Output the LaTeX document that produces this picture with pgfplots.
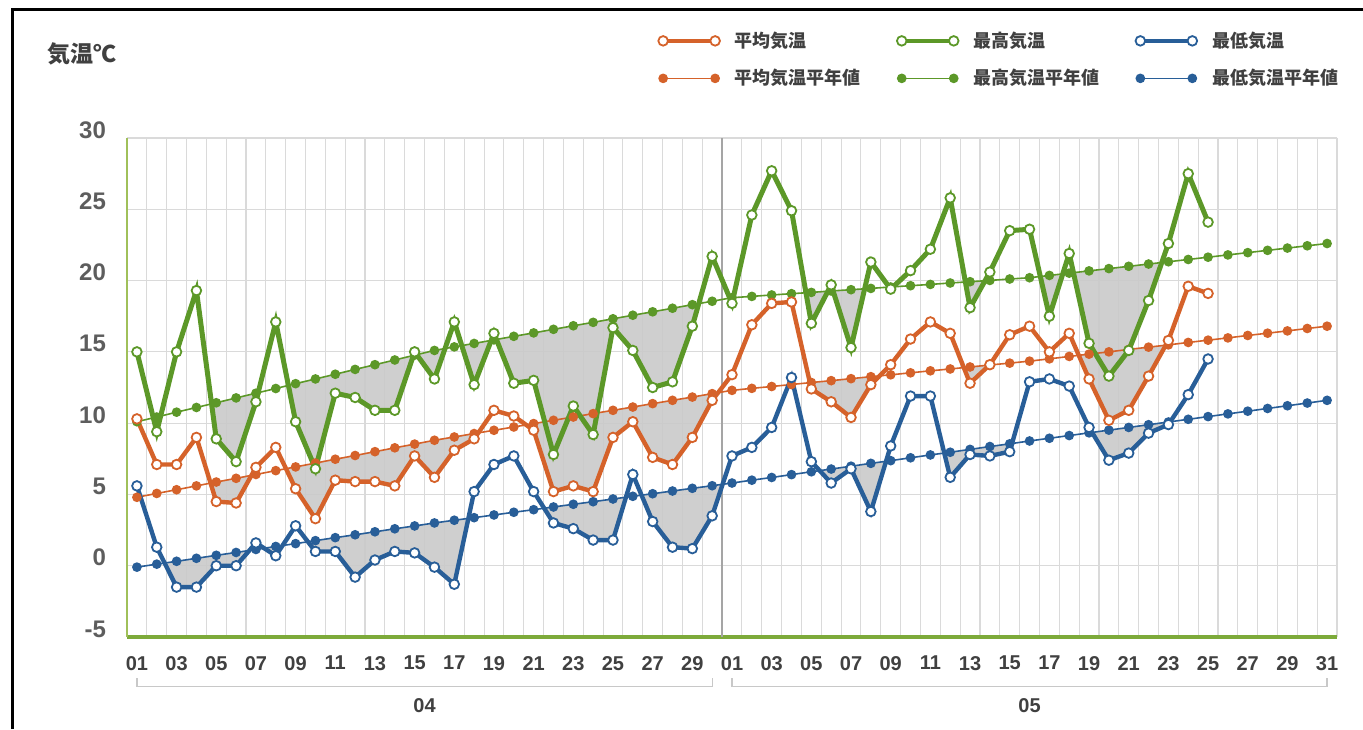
\documentclass[border=0pt]{standalone}
\usepackage{fontspec}
\setmainfont{Liberation Sans}
\newfontfamily\cjk{Noto Sans CJK JP}
\usepackage{pgfplots}
\pgfplotsset{compat=1.18}
\usepackage{pgfplotstable}
\usepgfplotslibrary{fillbetween}

\definecolor{cOr}{RGB}{213,98,42}
\definecolor{cGr}{RGB}{92,152,40}
\definecolor{cBl}{RGB}{40,94,152}
\definecolor{cAx}{RGB}{125,170,58}
\definecolor{cAxY}{RGB}{160,192,90}
\definecolor{cGrid}{RGB}{218,218,218}
\definecolor{cDiv}{RGB}{165,165,165}
\definecolor{cBr}{RGB}{200,200,200}
\definecolor{cFill}{RGB}{202,202,202}
\definecolor{cTxt}{RGB}{64,64,64}

% daily values, day index 0 = 04/01
\pgfplotstableread{
d tavg tmax tmin
0 10.3 15.0 5.6
1 7.1 9.4 1.3
2 7.1 15.0 -1.5
3 9.0 19.3 -1.5
4 4.5 8.9 0.0
5 4.4 7.3 0.0
6 6.9 11.5 1.6
7 8.3 17.1 0.7
8 5.4 10.1 2.8
9 3.3 6.8 1.0
10 6.0 12.1 1.0
11 5.9 11.8 -0.8
12 5.9 10.9 0.4
13 5.6 10.9 1.0
14 7.7 15.0 0.9
15 6.2 13.1 -0.1
16 8.1 17.1 -1.3
17 8.9 12.7 5.2
18 10.9 16.3 7.1
19 10.5 12.8 7.7
20 9.5 13.0 5.2
21 5.2 7.8 3.0
22 5.6 11.2 2.6
23 5.2 9.2 1.8
24 9.0 16.7 1.8
25 10.1 15.1 6.4
26 7.6 12.5 3.1
27 7.1 12.9 1.3
28 9.0 16.8 1.2
29 11.6 21.7 3.5
30 13.4 18.4 7.7
31 16.9 24.6 8.3
32 18.4 27.7 9.7
33 18.5 24.9 13.2
34 12.4 17.0 7.3
35 11.5 19.7 5.8
36 10.4 15.3 6.8
37 12.7 21.3 3.8
38 14.1 19.4 8.4
39 15.9 20.7 11.9
40 17.1 22.2 11.9
41 16.3 25.8 6.2
42 12.8 18.1 7.8
43 14.1 20.6 7.7
44 16.2 23.5 8.0
45 16.8 23.6 12.9
46 15.0 17.5 13.1
47 16.3 21.9 12.6
48 13.1 15.6 9.7
49 10.2 13.3 7.4
50 10.9 15.1 7.9
51 13.3 18.6 9.3
52 15.8 22.6 9.9
53 19.6 27.5 12.0
54 19.1 24.1 14.5
}\actual

% normals
\pgfplotstableread{
d tavg tmax tmin
0 4.80 10.10 -0.10
1 5.07 10.43 0.11
2 5.33 10.77 0.31
3 5.60 11.10 0.52
4 5.87 11.43 0.73
5 6.13 11.77 0.93
6 6.40 12.10 1.14
7 6.67 12.43 1.35
8 6.93 12.77 1.55
9 7.20 13.10 1.76
10 7.47 13.43 1.97
11 7.73 13.77 2.17
12 8.00 14.10 2.38
13 8.27 14.43 2.59
14 8.53 14.77 2.79
15 8.80 15.10 3.00
16 9.03 15.35 3.19
17 9.27 15.59 3.37
18 9.50 15.84 3.56
19 9.73 16.09 3.75
20 9.97 16.33 3.93
21 10.20 16.58 4.12
22 10.43 16.83 4.31
23 10.67 17.07 4.49
24 10.90 17.32 4.68
25 11.13 17.57 4.87
26 11.37 17.81 5.05
27 11.60 18.06 5.24
28 11.83 18.31 5.43
29 12.07 18.55 5.61
30 12.30 18.80 5.80
31 12.44 18.89 6.00
32 12.57 18.99 6.19
33 12.71 19.08 6.39
34 12.85 19.17 6.59
35 12.98 19.27 6.78
36 13.12 19.36 6.98
37 13.26 19.45 7.18
38 13.39 19.55 7.37
39 13.53 19.64 7.57
40 13.67 19.73 7.77
41 13.80 19.83 7.96
42 13.94 19.92 8.16
43 14.08 20.01 8.36
44 14.21 20.11 8.55
45 14.35 20.20 8.75
46 14.51 20.36 8.94
47 14.68 20.52 9.13
48 14.84 20.68 9.32
49 15.00 20.84 9.51
50 15.17 21.00 9.70
51 15.33 21.16 9.89
52 15.49 21.32 10.08
53 15.66 21.48 10.27
54 15.82 21.64 10.46
55 15.98 21.80 10.65
56 16.15 21.96 10.84
57 16.31 22.12 11.03
58 16.47 22.28 11.22
59 16.64 22.44 11.41
60 16.80 22.60 11.60
}\normals

\pgfplotsset{
  act/.style={line width=2.2pt, mark=*, mark size=2.4pt,
    mark options={fill=white, line width=0.9pt}},
  nrm/.style={line width=0.8pt, mark=*, mark size=2pt},
  twoimg/.style={legend image code/.code={
    \draw[mark repeat=1,##1] plot coordinates {(0pt,0pt) (26pt,0pt)};}},
  shade/.style={cFill, fill opacity=0.9, forget plot},
}

\begin{document}
\begin{tikzpicture}
\draw[line width=1.5pt] (6pt,0pt) -- (6pt,359.5pt) -- (681.5pt,359.5pt);
\node[anchor=west, inner sep=0pt, font=\cjk\bfseries\fontsize{11.5}{13}\selectfont, text=cTxt]
  at (23.5pt,337.5pt) {気温℃};

\begin{axis}[
  at={(63.5pt,46pt)}, anchor=south west,
  scale only axis, width=605pt, height=249.5pt,
  xmin=-0.5, xmax=60.5, ymin=-5, ymax=30,
  axis x line=bottom, axis y line=left,
  x axis line style={cAx, line width=1.6pt, -},
  y axis line style={cAxY, line width=1.2pt, -},
  clip=false,
  xtick={0,2,...,60},
  xticklabels={01,03,05,07,09,11,13,15,17,19,21,23,25,27,29,01,03,05,07,09,11,13,15,17,19,21,23,25,27,29,31},
  minor xtick={-0.5,0.5,...,60.5},
  ytick={-5,0,...,30},
  yticklabels={-5,0,5,10,15,20,25,30},
  major tick length=0pt, minor tick length=0pt,
  xminorgrids=true, ymajorgrids=true,
  major grid style={cGrid, line width=0.55pt},
  minor grid style={cGrid, line width=0.55pt},
  xticklabel style={font=\bfseries\fontsize{10}{12}\selectfont, text=cTxt, yshift=-6pt},
  yticklabel style={font=\bfseries\fontsize{12}{14}\selectfont, text=cTxt!85, anchor=base east, xshift=-7pt},
  legend columns=3,
  legend cell align=left,
  legend style={draw=none, fill=none, at={(0.4388,1.222)}, anchor=north west,
    inner sep=0pt, row sep=5.5pt, font=\cjk\bfseries\fontsize{9}{10}\selectfont, text=cTxt,
    /tikz/every odd column/.append style={column sep=5.5pt},
    /tikz/every even column/.append style={column sep=16pt},
    /tikz/column 2/.append style={column sep=21pt}},
]
\addlegendimage{act, cOr, twoimg}\addlegendentry{平均気温}
\addlegendimage{act, cGr, twoimg}\addlegendentry{最高気温}
\addlegendimage{act, cBl, twoimg}\addlegendentry{最低気温}
\addlegendimage{nrm, cOr, twoimg}\addlegendentry{平均気温平年値}
\addlegendimage{nrm, cGr, twoimg}\addlegendentry{最高気温平年値}
\addlegendimage{nrm, cBl, twoimg}\addlegendentry{最低気温平年値}

% month divider
\draw[cDiv, line width=0.7pt] (axis cs:29.5,-5) -- (axis cs:29.5,30);

% invisible paths for the below-normal shading
\addplot[draw=none, forget plot, name path=aA] table[x=d,y=tavg]{\actual};
\addplot[draw=none, forget plot, name path=aX] table[x=d,y=tmax]{\actual};
\addplot[draw=none, forget plot, name path=aN] table[x=d,y=tmin]{\actual};
\addplot[draw=none, forget plot, name path=nA, restrict x to domain=0:54] table[x=d,y=tavg]{\normals};
\addplot[draw=none, forget plot, name path=nX, restrict x to domain=0:54] table[x=d,y=tmax]{\normals};
\addplot[draw=none, forget plot, name path=nN, restrict x to domain=0:54] table[x=d,y=tmin]{\normals};

\addplot[shade] fill between[of=aA and nA, split, every even segment/.style={fill=none}];
\addplot[shade] fill between[of=aX and nX, split, every even segment/.style={fill=none}];
\addplot[shade] fill between[of=aN and nN, split, every even segment/.style={fill=none}];

% normals
\addplot[nrm, cOr, forget plot] table[x=d,y=tavg]{\normals};
\addplot[nrm, cGr, forget plot] table[x=d,y=tmax]{\normals};
\addplot[nrm, cBl, forget plot] table[x=d,y=tmin]{\normals};

% observed
\addplot[act, cOr, forget plot] table[x=d,y=tavg]{\actual};
\addplot[act, cGr, forget plot, line width=2.5pt] table[x=d,y=tmax]{\actual};
\addplot[act, cBl, forget plot] table[x=d,y=tmin]{\actual};

% month brackets and labels
\draw[cBr, line width=0.6pt] (axis cs:0,-7.9) -- (axis cs:0,-8.45) -- (axis cs:29,-8.45) -- (axis cs:29,-7.9);
\draw[cBr, line width=0.6pt] (axis cs:30,-7.9) -- (axis cs:30,-8.45) -- (axis cs:60,-8.45) -- (axis cs:60,-7.9);
\node[font=\bfseries\fontsize{10}{12}\selectfont, text=cTxt] at (axis cs:14.5,-9.8) {04};
\node[font=\bfseries\fontsize{10}{12}\selectfont, text=cTxt] at (axis cs:45,-9.8) {05};
\end{axis}
\pgfresetboundingbox
\useasboundingbox (0,0) rectangle (681.5pt,364.5pt);
\end{tikzpicture}
\end{document}
